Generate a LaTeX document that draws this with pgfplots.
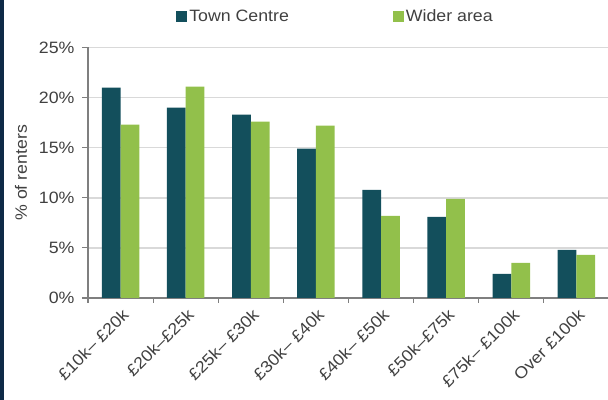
\documentclass[border=0pt]{standalone}
\usepackage{fontspec}
\setmainfont{Liberation Sans}[FakeStretch=1.08]
\usepackage{pgfplots}
\pgfplotsset{compat=1.18}
\definecolor{teal}{HTML}{134F5C}
\definecolor{lgreen}{HTML}{92C04B}
\definecolor{navy}{HTML}{0E2A47}
\definecolor{gridc}{HTML}{D9D9D9}
\definecolor{axc}{HTML}{7F7F7F}
\definecolor{txt}{HTML}{404040}
\begin{document}
\begin{tikzpicture}
\begin{axis}[
  at={(88bp,102bp)}, anchor=south west,
  scale only axis, width=521bp, height=250.5bp,
  ybar=0pt, bar width=18.7bp,
  xmin=-0.5, xmax=7.5, ymin=0, ymax=25,
  xtick={0,...,7},
  xticklabels={£10k– £20k, £20k–£25k, £25k– £30k, £30k– £40k, £40k– £50k, £50k–£75k, £75k– £100k, Over £100k},
  major x tick style={draw=none},
  minor xtick={-0.5,0.5,...,7.5},
  minor x tick style={draw=axc, line width=1.2pt},
  minor tick length=5bp,
  ytick={0,5,...,25},
  yticklabel={\pgfmathprintnumber{\tick}\%},
  /pgf/number format/assume math mode=true,
  tick align=outside,
  xtick pos=bottom, ytick pos=left,
  major tick length=6bp,
  y tick style={draw=axc, line width=1.2pt},
  ymajorgrids, grid style={draw=gridc, line width=1.5pt},
  axis x line*=bottom, axis y line*=left,
  axis line style={draw=axc, line width=1.5pt},
  tick label style={font=\fontsize{16.5}{19}\selectfont, text=txt},
  xticklabel style={rotate=45, anchor=north east, inner sep=2pt, yshift=-1bp},
  yticklabel style={xshift=-4bp},
  ylabel={\% of renters},
  every axis y label/.style={at={(rel axis cs:0,0.5)}, xshift=-67bp, rotate=90, anchor=center,
    font=\fontsize{16.5}{19}\selectfont, text=txt},
  legend style={at={(0.5,1)}, xshift=-13bp, yshift=31bp, anchor=center, draw=none, fill=none,
    font=\fontsize{16.5}{19}\selectfont, text=txt, legend columns=2,
    /tikz/every even column/.append style={column sep=102bp}},
  legend image code/.code={\fill[#1] (0bp,-5.5bp) rectangle (11bp,5.5bp);},
]
\addplot[fill=teal, draw=none] coordinates {(0,21.0) (1,19.0) (2,18.3) (3,14.9) (4,10.8) (5,8.1) (6,2.4) (7,4.8)};
\addplot[fill=lgreen, draw=none] coordinates {(0,17.3) (1,21.1) (2,17.6) (3,17.2) (4,8.2) (5,9.9) (6,3.5) (7,4.3)};
\legend{Town Centre, Wider area}
\end{axis}
\fill[navy] (0,0) rectangle (3.5bp,400bp);
\pgfresetboundingbox
\path[use as bounding box] (0,0) rectangle (608bp,400bp);
\end{tikzpicture}
\end{document}
